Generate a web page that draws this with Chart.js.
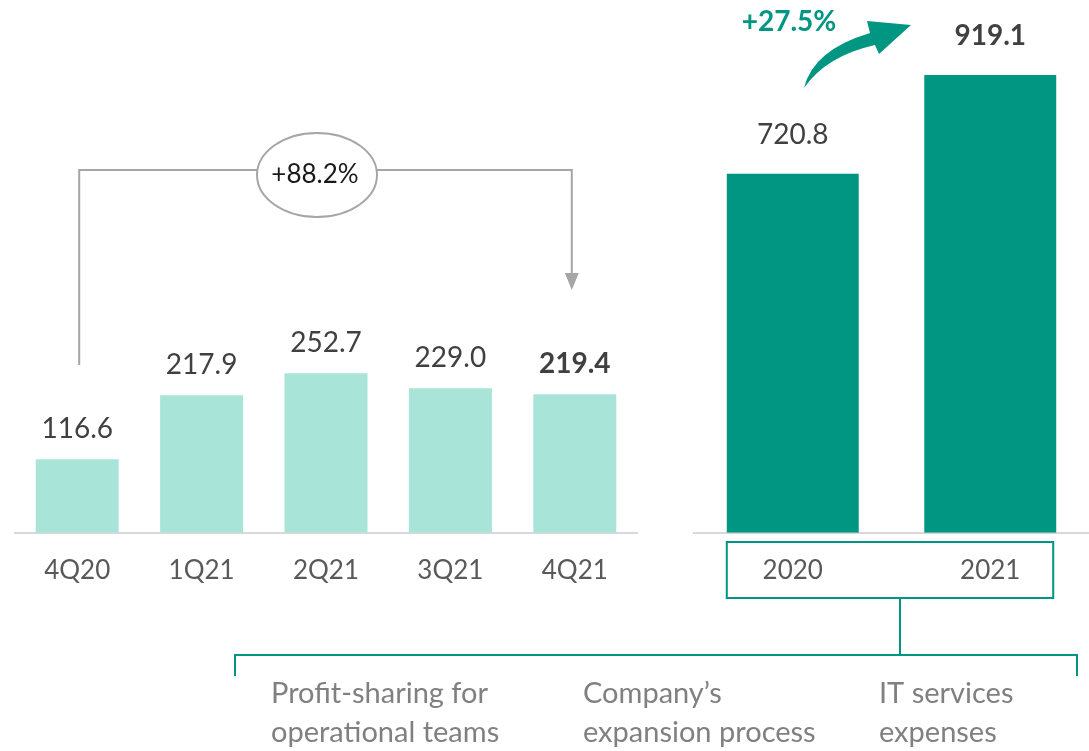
<!DOCTYPE html>
<html>
<head>
<meta charset="utf-8">
<script src="https://cdn.jsdelivr.net/npm/chart.js@4.4.1/dist/chart.umd.min.js"></script>
<style>
  html, body { margin: 0; padding: 0; background: #ffffff; }
  #wrap { position: relative; width: 1089px; height: 751px; overflow: hidden; }
  canvas { position: absolute; left: 0; top: 0; }
</style>
</head>
<body>
<div id="wrap">
  <canvas id="cq" width="1089" height="751"></canvas>
  <canvas id="cy" width="1089" height="751"></canvas>
</div>
<script>
// ---- data ----
const quarterLabels = ['4Q20', '1Q21', '2Q21', '3Q21', '4Q21'];
const quarterValues = [116.6, 217.9, 252.7, 229.0, 219.4];
const yearLabels = ['2020', '2021'];
const yearValues = [720.8, 919.1];
const quarterGrowthLabel = '+88.2%';
const yearGrowthLabel = '+27.5%';
const driverLabels = [
  ['Profit-sharing for', 'operational teams'],
  ['Company\u2019s', 'expansion process'],
  ['IT services', 'expenses']
];

// ---- styles ----
const FONT = 'Lato, "Open Sans", "Liberation Sans", sans-serif';
const LIGHT_TEAL = '#a8e5d8';
const DARK_TEAL = '#009681';
const GREY_LINE = '#a6a6a6';
const AXIS_LINE = '#d9d9d9';
const LABEL_COLOR = '#404040';
const TICK_COLOR = '#595959';

Chart.defaults.font.family = FONT;

function valueLabels(offset) {
  return {
    id: 'valueLabels',
    afterDatasetsDraw(chart) {
      const ctx = chart.ctx;
      const meta = chart.getDatasetMeta(0);
      const data = chart.data.datasets[0].data;
      ctx.save();
      ctx.textAlign = 'center';
      ctx.textBaseline = 'middle';
      meta.data.forEach((el, i) => {
        const last = i === data.length - 1;
        ctx.font = (last ? 'bold ' : '') + '28px ' + FONT;
        ctx.fillStyle = LABEL_COLOR;
        ctx.fillText(data[i].toFixed(1), el.x, el.y - offset);
      });
      ctx.restore();
    }
  };
}

const quarterAnnot = {
  id: 'quarterAnnot',
  afterDraw(chart) {
    const ctx = chart.ctx;
    const xs = chart.scales.x;
    const x0 = xs.getPixelForValue(0) + 2;
    const x1 = xs.getPixelForValue(quarterValues.length - 1) - 3;
    const yTop = 170;
    ctx.save();
    ctx.strokeStyle = GREY_LINE;
    ctx.lineWidth = 2;
    ctx.beginPath();
    ctx.moveTo(x0, 365);
    ctx.lineTo(x0, yTop);
    ctx.lineTo(x1, yTop);
    ctx.lineTo(x1, 274);
    ctx.stroke();
    // arrow head
    ctx.fillStyle = GREY_LINE;
    ctx.beginPath();
    ctx.moveTo(x1 - 7, 273);
    ctx.lineTo(x1 + 7, 273);
    ctx.lineTo(x1, 290);
    ctx.closePath();
    ctx.fill();
    // ellipse
    const cx = 317, cy = 175;
    ctx.beginPath();
    ctx.ellipse(cx, cy, 60, 42, 0, 0, Math.PI * 2);
    ctx.fillStyle = '#ffffff';
    ctx.fill();
    ctx.stroke();
    ctx.fillStyle = '#1a1a1a';
    ctx.font = '26px ' + FONT;
    ctx.textAlign = 'center';
    ctx.textBaseline = 'middle';
    ctx.fillText(quarterGrowthLabel, cx - 2, cy);
    ctx.restore();
  }
};

const yearAnnot = {
  id: 'yearAnnot',
  afterDraw(chart) {
    const ctx = chart.ctx;
    const meta = chart.getDatasetMeta(0);
    const b0 = meta.data[0], b1 = meta.data[1];
    ctx.save();
    // curved arrow
    ctx.fillStyle = DARK_TEAL;
    ctx.beginPath();
    ctx.moveTo(804, 88);
    ctx.quadraticCurveTo(813, 50, 870, 33);
    ctx.lineTo(867, 21);
    ctx.lineTo(911, 25);
    ctx.lineTo(879, 54);
    ctx.lineTo(875, 45);
    ctx.quadraticCurveTo(826, 56, 804, 88);
    ctx.closePath();
    ctx.fill();
    ctx.font = 'bold 28px ' + FONT;
    ctx.textAlign = 'center';
    ctx.textBaseline = 'middle';
    ctx.fillText(yearGrowthLabel, 789, 22);
    // box around year ticks
    const left = b0.x - b0.width / 2;
    const right = b1.x + b1.width / 2 - 3;
    const top = 542, bottom = 598;
    ctx.strokeStyle = DARK_TEAL;
    ctx.lineWidth = 2;
    ctx.strokeRect(left, top, right - left, bottom - top);
    // connector and bracket
    const cxm = 900;
    const by = 655;
    ctx.beginPath();
    ctx.moveTo(cxm, bottom);
    ctx.lineTo(cxm, by);
    ctx.moveTo(235, 676);
    ctx.lineTo(235, by);
    ctx.lineTo(1077, by);
    ctx.lineTo(1077, 676);
    ctx.stroke();
    // driver texts
    const textX = [271, 583, 879];
    ctx.fillStyle = '#808080';
    ctx.font = '29px ' + FONT;
    ctx.textAlign = 'left';
    ctx.textBaseline = 'alphabetic';
    driverLabels.forEach((lines, i) => {
      lines.forEach((t, j) => {
        ctx.fillText(t, textX[i], 703 + j * 39);
      });
    });
    ctx.restore();
  }
};

function makeOptions(padLeft, padRight, yMax) {
  return {
    responsive: false,
    animation: false,
    devicePixelRatio: 1,
    layout: { padding: { left: padLeft, right: padRight, top: 0, bottom: 143 } },
    plugins: { legend: { display: false }, tooltip: { enabled: false } },
    scales: {
      x: {
        grid: { display: false, drawTicks: false },
        border: { display: true, color: AXIS_LINE, width: 2 },
        ticks: { color: TICK_COLOR, font: { size: 26, family: FONT }, padding: 22 }
      },
      y: { display: false, min: 0, max: yMax }
    }
  };
}

new Chart(document.getElementById('cq'), {
  type: 'bar',
  data: {
    labels: quarterLabels,
    datasets: [{
      data: quarterValues,
      backgroundColor: LIGHT_TEAL,
      categoryPercentage: 1.0,
      barPercentage: 0.667
    }]
  },
  options: makeOptions(15, 452, 844),
  plugins: [valueLabels(30), quarterAnnot]
});

new Chart(document.getElementById('cy'), {
  type: 'bar',
  data: {
    labels: yearLabels,
    datasets: [{
      data: yearValues,
      backgroundColor: DARK_TEAL,
      categoryPercentage: 1.0,
      barPercentage: 0.668
    }]
  },
  options: makeOptions(694, 0, 1069.5),
  plugins: [valueLabels(39), yearAnnot]
});
</script>
</body>
</html>
